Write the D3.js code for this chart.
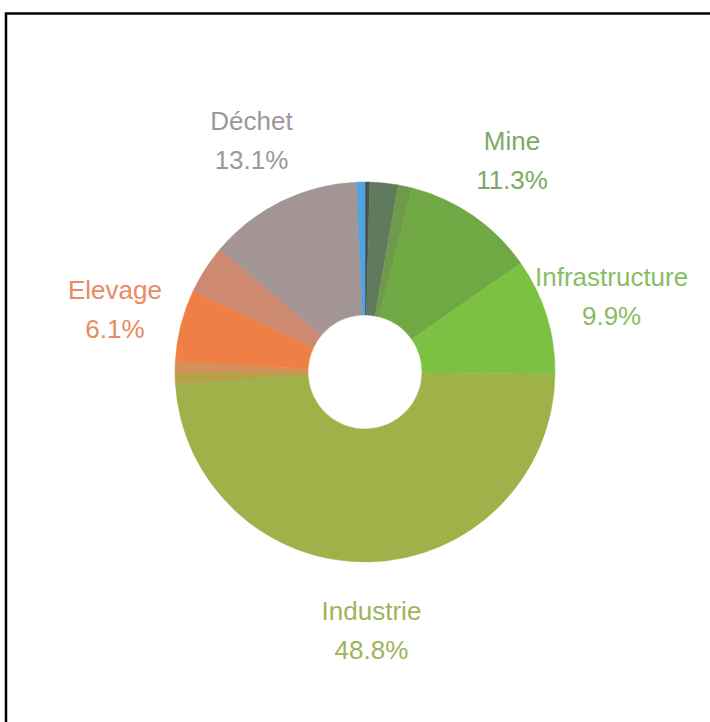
<!DOCTYPE html>
<html>
<head>
<meta charset="utf-8">
<script src="https://cdn.jsdelivr.net/npm/d3@7/dist/d3.min.js"></script>
<style>
  html, body { margin: 0; padding: 0; background: #fff; }
  svg { display: block; }
</style>
</head>
<body>
<svg id="chart" width="710" height="722"></svg>
<script>
// ---- data (clockwise from 12 o'clock) ----
const categories = ["Autre1", "Autre2", "Autre3", "Mine", "Infrastructure", "Industrie",
                    "Autre4", "Autre5", "Elevage", "Autre6", "Déchet", "Autre7"];
const values = [0.4, 2.4, 1.2, 11.3, 9.9, 48.8, 1.0, 0.9, 6.1, 4.2, 13.1, 0.7];
const labelled = ["Mine", "Infrastructure", "Industrie", "Elevage", "Déchet"];
const percentLabels = {"Mine": "11.3%", "Infrastructure": "9.9%", "Industrie": "48.8%", "Elevage": "6.1%", "Déchet": "13.1%"};

// ---- styles ----
const sliceColors = ["#4f5150", "#5f7a5c", "#6f9a4c", "#70a844", "#7dc143", "#9fb249",
                     "#b6a048", "#d4905a", "#f07f45", "#cd8a70", "#a39594", "#4da4de"];
const labelColors = {"Mine": "#7da965", "Infrastructure": "#88bd63", "Industrie": "#9db45d",
                     "Elevage": "#e98a62", "Déchet": "#9b9899"};

const svg = d3.select("#chart");
const cx = 365, cy = 372, outerR = 190, innerR = 57, labelR = 258;

// frame
svg.append("rect")
  .attr("x", 6).attr("y", 13.5)
  .attr("width", 760).attr("height", 760)
  .attr("fill", "none").attr("stroke", "#000").attr("stroke-width", 2.5);

const data = categories.map((c, i) => ({cat: c, value: values[i], color: sliceColors[i]}));

const pie = d3.pie().value(d => d.value).sort(null).startAngle(0).endAngle(2 * Math.PI);
const arc = d3.arc().innerRadius(innerR).outerRadius(outerR);
const labelArc = d3.arc().innerRadius(labelR).outerRadius(labelR);

const g = svg.append("g").attr("transform", `translate(${cx},${cy})`);
const arcs = pie(data);

g.selectAll("path.slice")
  .data(arcs)
  .enter().append("path")
  .attr("class", "slice")
  .attr("d", arc)
  .attr("fill", d => d.data.color)
  .attr("stroke", d => d.data.color)
  .attr("stroke-width", 0.5);

const lab = g.selectAll("g.lab")
  .data(arcs.filter(d => labelled.includes(d.data.cat)))
  .enter().append("g")
  .attr("class", "lab")
  .attr("transform", d => { const [x, y] = labelArc.centroid(d); return `translate(${x},${y})`; });

lab.append("text")
  .attr("text-anchor", "middle")
  .attr("y", -10)
  .attr("font-family", "Liberation Sans, Arial, sans-serif")
  .attr("font-size", 26)
  .attr("fill", d => labelColors[d.data.cat])
  .text(d => d.data.cat);

lab.append("text")
  .attr("text-anchor", "middle")
  .attr("y", 29)
  .attr("font-family", "Liberation Sans, Arial, sans-serif")
  .attr("font-size", 26)
  .attr("fill", d => labelColors[d.data.cat])
  .text(d => percentLabels[d.data.cat]);
</script>
</body>
</html>
